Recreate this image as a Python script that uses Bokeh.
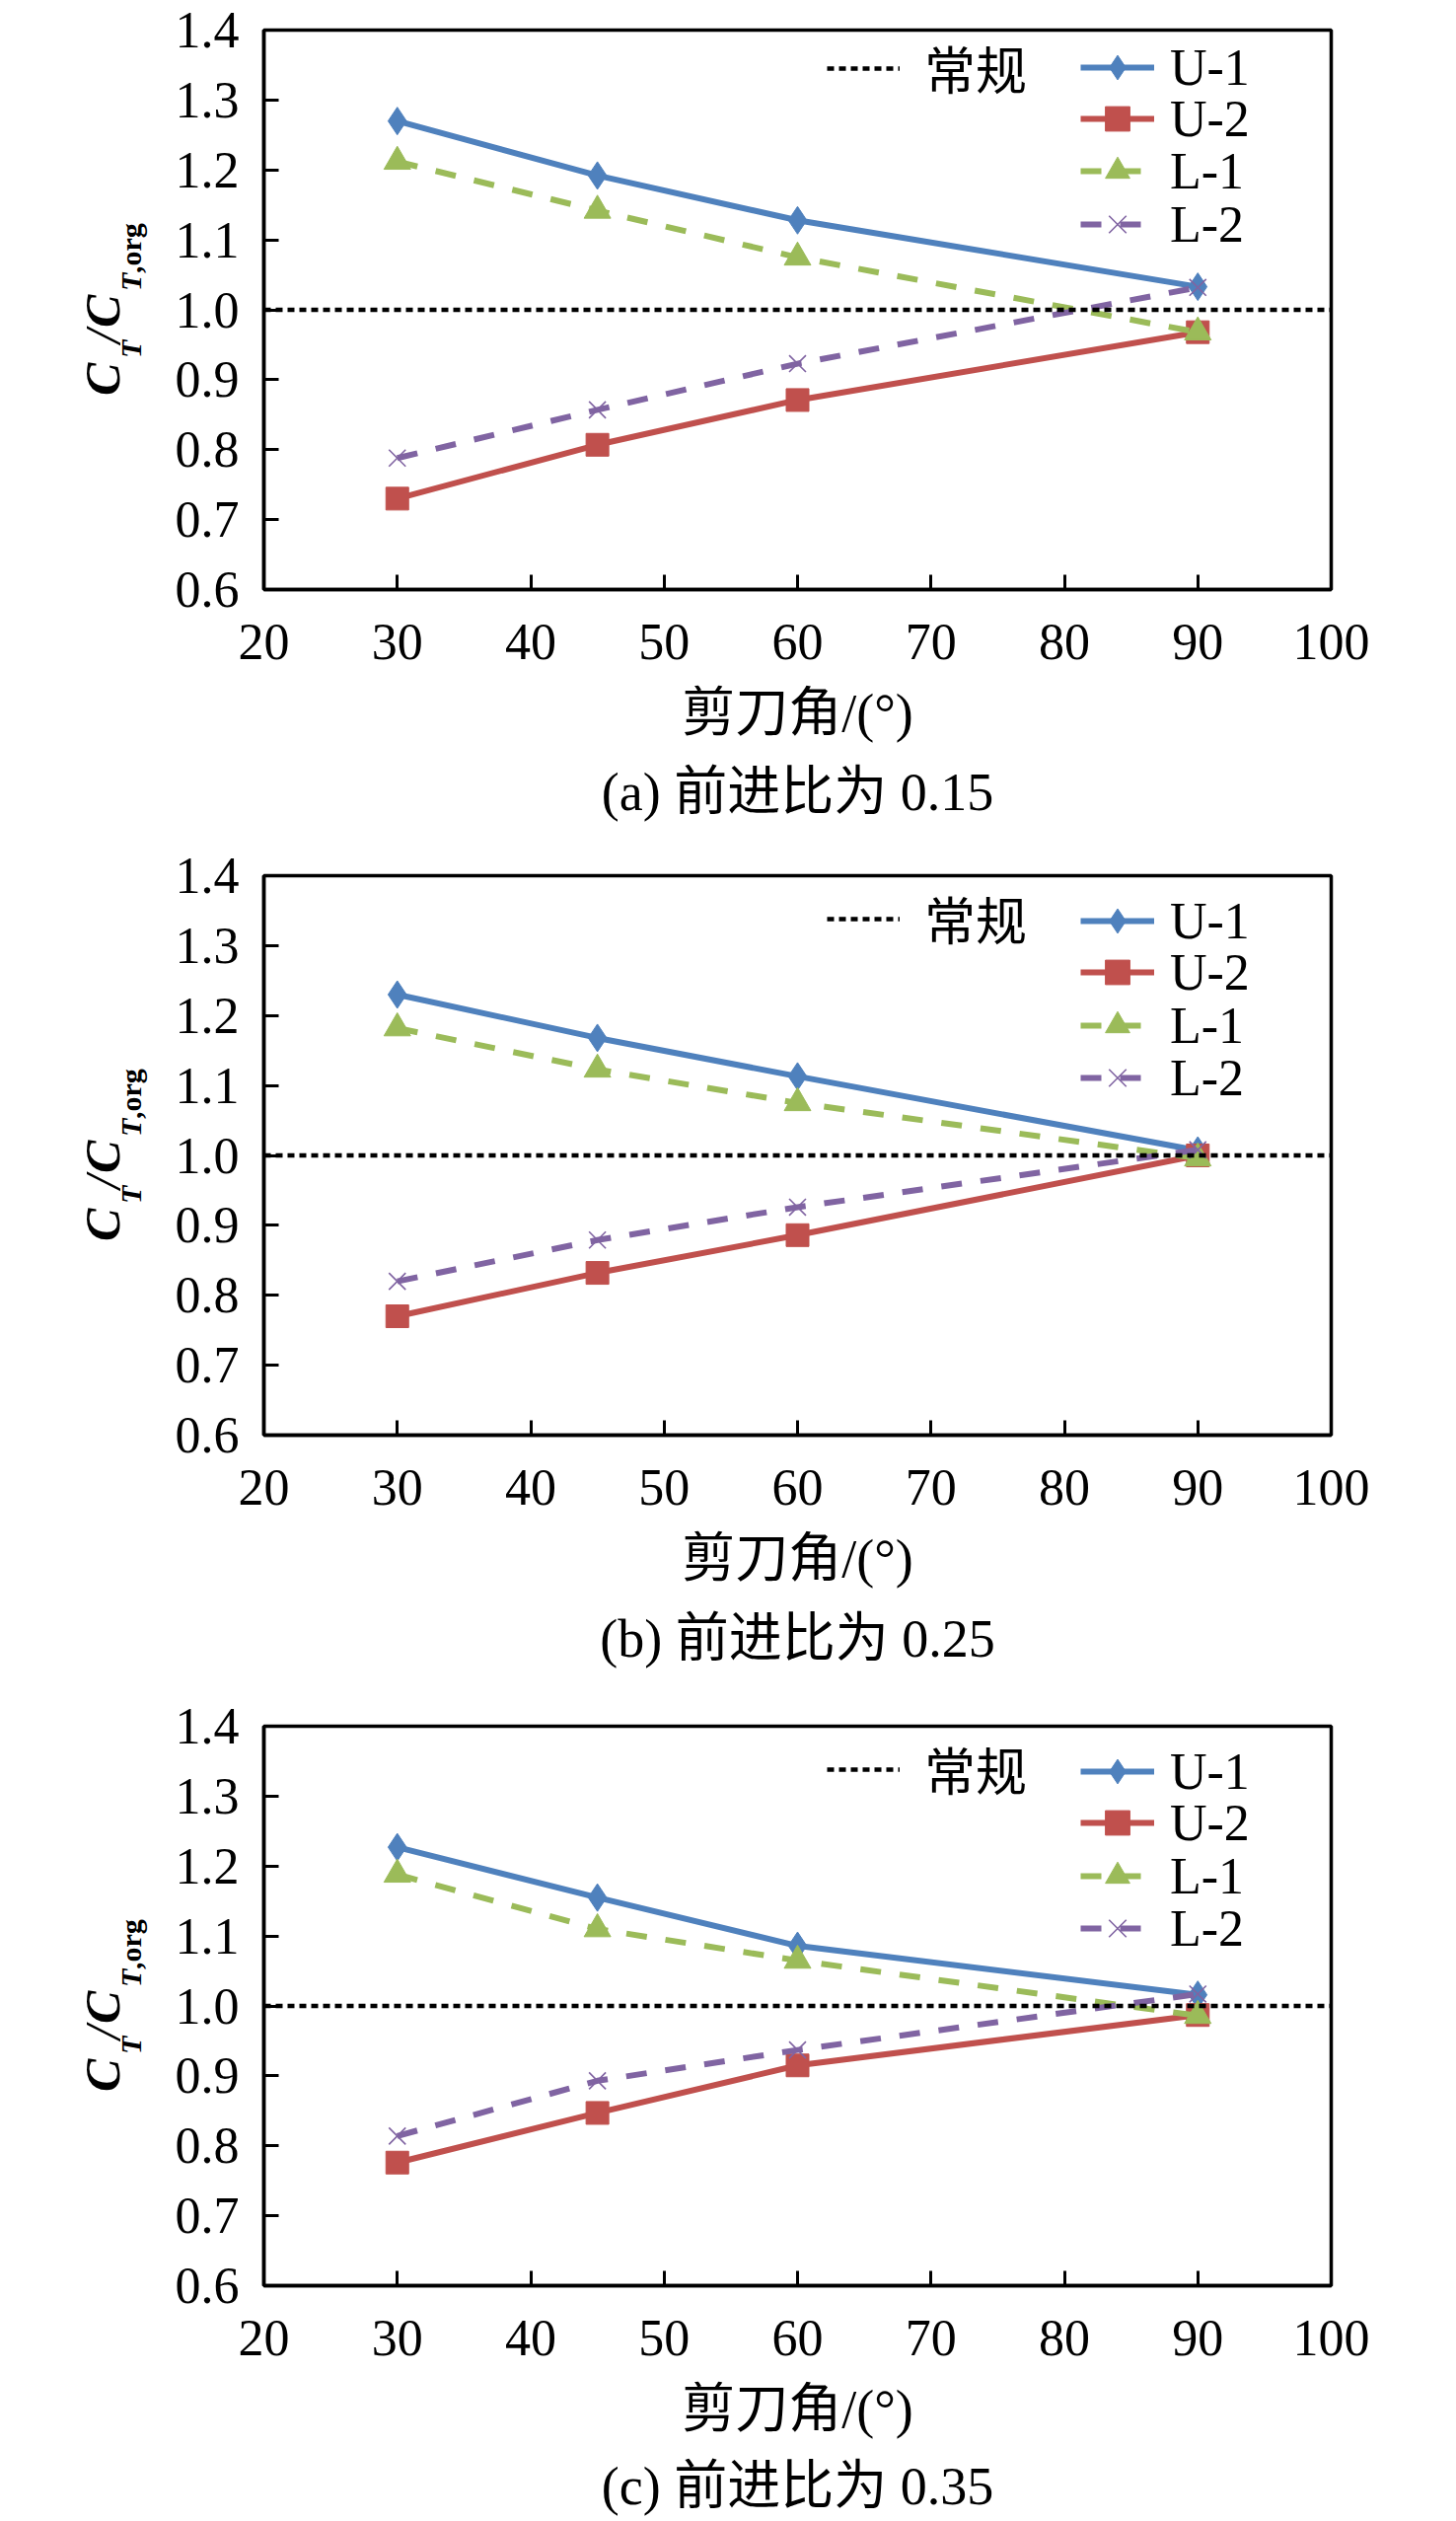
import math
from bokeh.plotting import figure
from bokeh.layouts import column, row
from bokeh.models import (Range1d, FixedTicker, PrintfTickFormatter, Legend,
                          LegendItem, Label, ColumnDataSource)
from bokeh.embed import file_html
from bokeh.resources import INLINE

# ---------------- data ----------------
angles = [30, 45, 60, 90]
x_ticks = [20, 30, 40, 50, 60, 70, 80, 90, 100]
y_ticks = [0.6, 0.7, 0.8, 0.9, 1.0, 1.1, 1.2, 1.3, 1.4]
x_limits = [20, 100]
y_limits = [0.6, 1.4]
conventional = [1.0, 1.0]          # 常规 (normalised reference) across the axis

series_names = ["U-1", "U-2", "L-1", "L-2"]
baseline_name = "常规"
x_title = "剪刀角/(°)"
captions = ["(a) 前进比为 0.15", "(b) 前进比为 0.25", "(c) 前进比为 0.35"]

u1_a = [1.270, 1.192, 1.128, 1.033]
u2_a = [0.730, 0.807, 0.871, 0.968]
l1_a = [1.212, 1.142, 1.075, 0.968]
l2_a = [0.788, 0.857, 0.923, 1.032]

u1_b = [1.230, 1.168, 1.113, 1.007]
u2_b = [0.770, 0.832, 0.886, 1.000]
l1_b = [1.182, 1.123, 1.075, 0.996]
l2_b = [0.820, 0.879, 0.926, 1.008]

u1_c = [1.227, 1.155, 1.086, 1.016]
u2_c = [0.776, 0.847, 0.915, 0.987]
l1_c = [1.188, 1.110, 1.065, 0.986]
l2_c = [0.814, 0.893, 0.937, 1.017]

# ---------------- style / layout ----------------
SERIF = "Liberation Serif"
MIXED = "'Liberation Serif', 'Noto Sans CJK SC', sans-serif"
TICK_FS = "52px"
CJK_FS = "54px"
FW, FH = 1082, 567
LEFT_W = 160        # width of the y-title strip
MAIN_W = 1310
MAIN_L = 107        # frame left inside the main figure
MAIN_B = 97         # space under the frame for tick labels

STY = {
    "U-1": dict(color="#4F81BD", dash="solid", marker="diamond", size=28),
    "U-2": dict(color="#C0504D", dash="solid", marker="square", size=23),
    "L-1": dict(color="#9BBB59", dash="21 19", marker="triangle", size=27),
    "L-2": dict(color="#8064A2", dash="21 19", marker="x", size=24),
}


def blank(width, height):
    f = figure(width=width, height=height, output_backend="svg",
               toolbar_location=None, x_axis_type=None, y_axis_type=None,
               x_range=Range1d(0, 1), y_range=Range1d(0, 1),
               min_border=0, min_border_left=0, min_border_right=0,
               min_border_top=0, min_border_bottom=0)
    f.outline_line_color = None
    f.background_fill_color = "white"
    f.border_fill_color = "white"
    return f


def make_panel(vals, caption, height, top, rows, base_row, cap_off):
    p = figure(width=MAIN_W, height=top + FH + MAIN_B, output_backend="svg",
               toolbar_location=None,
               x_range=Range1d(*x_limits), y_range=Range1d(*y_limits),
               min_border_left=MAIN_L, min_border_right=MAIN_W - MAIN_L - FW,
               min_border_top=top, min_border_bottom=MAIN_B)
    p.background_fill_color = "white"
    p.border_fill_color = "white"
    p.outline_line_color = "black"
    p.outline_line_width = 3.5
    p.outline_line_alpha = 1.0
    p.xgrid.visible = False
    p.ygrid.visible = False

    for ax in (p.xaxis[0], p.yaxis[0]):
        ax.axis_line_color = "black"
        ax.axis_line_width = 3.5
        ax.major_tick_in = 15
        ax.major_tick_out = 0
        ax.major_tick_line_width = 3
        ax.major_tick_line_color = "black"
        ax.minor_tick_line_color = None
        ax.major_label_text_font = SERIF
        ax.major_label_text_font_size = TICK_FS
        ax.major_label_text_color = "black"
    p.xaxis.ticker = FixedTicker(ticks=x_ticks)
    p.yaxis.ticker = FixedTicker(ticks=y_ticks)
    p.yaxis.formatter = PrintfTickFormatter(format="%.1f")
    p.xaxis.major_label_standoff = 35
    p.yaxis.major_label_standoff = 25

    rends = {}
    for name, ys in zip(series_names, vals):
        st = STY[name]
        src = ColumnDataSource(dict(x=angles, y=ys))
        ln = p.line("x", "y", source=src, line_color=st["color"],
                    line_width=6, line_dash=st["dash"])
        if st["marker"] == "x":
            sc = p.scatter("x", "y", source=src, marker="x", size=st["size"],
                           line_color=st["color"], line_width=1.6)
        else:
            sc = p.scatter("x", "y", source=src, marker=st["marker"],
                           size=st["size"], fill_color=st["color"],
                           line_color=st["color"], line_width=1)
        rends[name] = [ln, sc]
    base = p.line(x=x_limits, y=conventional, line_color="black",
                  line_width=4.5, line_dash="7 5")

    def add_leg(label, rr, x_left, row_center, gw, gh, standoff, font):
        leg = Legend(items=[LegendItem(label=label, renderers=rr)],
                     location=(x_left, FH - row_center - gh / 2),
                     glyph_width=gw, glyph_height=gh, label_height=gh,
                     label_standoff=standoff, padding=0, margin=0, spacing=0,
                     border_line_color=None, background_fill_alpha=0,
                     label_text_font=font, label_text_font_size=TICK_FS,
                     label_text_color="black")
        p.add_layout(leg)

    add_leg(baseline_name, [base], 571, base_row, 74, 72, 25, MIXED)
    for name, rc in zip(series_names, rows):
        add_leg(name, rends[name], 828, rc, 75, 62, 16, SERIF)

    # ---- y-axis title strip:  C_T / C_T,org  (rotated) ----
    yl = blank(LEFT_W, height)
    y0 = height - (top + FH / 2 + 87)
    pieces = [("C", 50, "bold italic", 103, 0.0),
              ("T", 30, "bold italic", 132, 38.0),
              ("/", 50, "italic", 103, 53.0),
              ("C", 50, "bold italic", 103, 69.0),
              ("T", 30, "bold italic", 132, 106.0),
              (",org", 30, "bold", 132, 124.0)]
    for txt, size, style, xx, off in pieces:
        yl.add_layout(Label(x=xx, y=y0 + off, x_units="screen", y_units="screen",
                            text=txt, angle=math.pi / 2, text_font=SERIF,
                            text_font_size=f"{size}px", text_font_style=style,
                            text_align="left", text_baseline="alphabetic",
                            text_color="black"))

    # ---- x title + caption strip (frame is aligned with the plot frame) ----
    cap_h = height - (top + FH + MAIN_B)
    cap = blank(MAIN_W, cap_h)
    cx = FW / 2
    cap.add_layout(Label(x=cx, y=cap_h - (125 - MAIN_B), x_units="screen",
                         y_units="screen", text=x_title, text_align="center",
                         text_baseline="middle", text_font=MIXED,
                         text_font_size=CJK_FS, text_color="black"))
    cap.add_layout(Label(x=cx, y=cap_h - (cap_off - MAIN_B), x_units="screen",
                         y_units="screen", text=caption, text_align="center",
                         text_baseline="middle", text_font=MIXED,
                         text_font_size=CJK_FS, text_color="black"))
    return row(yl, column(p, cap))


pa = make_panel([u1_a, u2_a, l1_a, l2_a], captions[0], 856, 30, [38, 90, 143, 197], 40, 205)
pb = make_panel([u1_b, u2_b, l1_b, l2_b], captions[1], 862, 31, [46, 98, 152, 205], 45, 206)
pc = make_panel([u1_c, u2_c, l1_c, l2_c], captions[2], 836, 31, [46, 98, 152, 205], 45, 203)

layout = column(pa, pb, pc)
open("out.html", "w").write(file_html(layout, INLINE))
